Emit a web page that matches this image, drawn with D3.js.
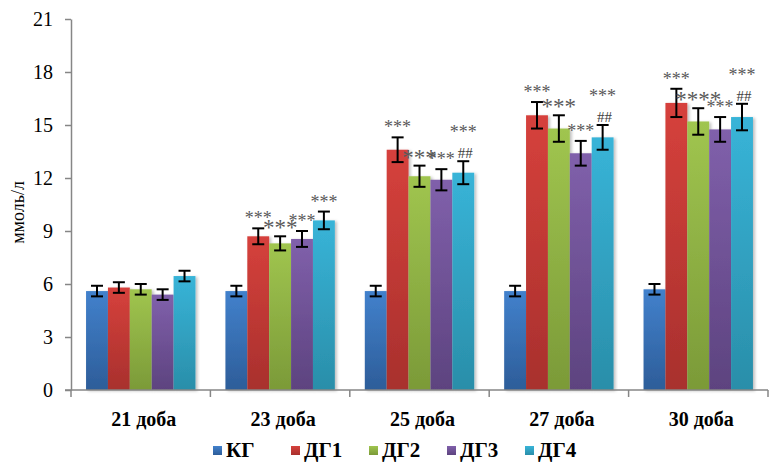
<!DOCTYPE html>
<html>
<head>
<meta charset="UTF-8" />
<title>ммоль/л</title>
<style>
	html, body { margin: 0; padding: 0; background: #fff; overflow: hidden; }
	svg { font-family: "Liberation Serif", "Times New Roman", serif; }
	.axis path, .axis line { stroke: #868686; stroke-width: 1.5px; }
	.err line { stroke: #000; stroke-width: 2px; }
</style>
<script src="https://d3js.org/d3.v7.min.js"></script>
</head>
<body>
<svg id="chart" width="774" height="464"></svg>
<script>
// data
const days = ['21 доба', '23 доба', '25 доба', '27 доба', '30 доба'];
const groups = ['КГ', 'ДГ1', 'ДГ2', 'ДГ3', 'ДГ4'];
const values = [
	[5.6, 5.8, 5.7, 5.4, 6.45],
	[5.6, 8.7, 8.3, 8.55, 9.6],
	[5.6, 13.6, 12.1, 11.9, 12.3],
	[5.6, 15.55, 14.8, 13.4, 14.3],
	[5.7, 16.25, 15.2, 14.75, 15.45]
];
const errors = [
	[0.3, 0.3, 0.3, 0.3, 0.3],
	[0.3, 0.45, 0.4, 0.45, 0.5],
	[0.3, 0.7, 0.6, 0.6, 0.65],
	[0.3, 0.75, 0.75, 0.7, 0.7],
	[0.3, 0.8, 0.75, 0.7, 0.75]
];
const stars = [
	['', '', '', '', ''],
	['', '***', '***', '***', '***'],
	['', '***', '***', '***', '***'],
	['', '***', '***', '***', '***'],
	['', '***', '****', '***', '***']
];
const hashes = [
	['', '', '', '', ''],
	['', '', '', '', ''],
	['', '', '', '', '##'],
	['', '', '', '', '##'],
	['', '', '', '', '##']
];
const yTicks = [0, 3, 6, 9, 12, 15, 18, 21];
const colors = [
	['#4281cc', '#2d5d99'],
	['#d6413c', '#a8302d'],
	['#a0c54f', '#7b9a38'],
	['#8060ab', '#5d437f'],
	['#38b4d8', '#2a8ea9']
];

const svg = d3.select('#chart');
const margin = { left: 71, right: 6, top: 19, bottom: 74 };
const W = 774, H = 464;

const x0 = d3.scaleBand().domain(days).range([margin.left, W - margin.right]).paddingInner(0.215).paddingOuter(0.108);
const x1 = d3.scaleBand().domain(groups).range([0, x0.bandwidth()]);
const y = d3.scaleLinear().domain([0, 21]).range([H - margin.bottom, margin.top]);
const xEdges = d3.scaleLinear().domain([0, days.length]).range([margin.left, W - margin.right]);

const defs = svg.append('defs');
colors.forEach((c, i) => {
	const g = defs.append('linearGradient').attr('id', 'g' + i)
		.attr('x1', 0).attr('y1', 0).attr('x2', 0).attr('y2', 1);
	g.append('stop').attr('offset', '0%').attr('stop-color', c[0]);
	g.append('stop').attr('offset', '100%').attr('stop-color', c[1]);
});
const sh = defs.append('filter').attr('id', 'shadow').attr('x', '-20%').attr('y', '-5%').attr('width', '140%').attr('height', '110%');
sh.append('feDropShadow').attr('dx', 2).attr('dy', 1).attr('stdDeviation', 1.5).attr('flood-opacity', 0.25);

// y axis
const yAxis = svg.append('g').attr('class', 'axis')
	.attr('transform', `translate(${margin.left},0)`)
	.call(d3.axisLeft(y).tickValues(yTicks).tickSize(6).tickPadding(12).tickSizeOuter(0));
yAxis.selectAll('text').attr('font-size', 20).attr('fill', '#000').attr('font-family', '"Liberation Serif", serif');

svg.append('text')
	.attr('transform', `translate(24,${(y(0) + y(21)) / 2 + 8}) rotate(-90)`)
	.attr('text-anchor', 'middle')
	.attr('font-size', 18)
	.text('ммоль/л');

// bars
const gDay = svg.append('g').selectAll('g').data(days).join('g')
	.attr('transform', d => `translate(${x0(d)},0)`);

gDay.selectAll('rect').data((d, i) => values[i].map((v, j) => ({ v, j })))
	.join('rect')
	.attr('x', d => x1(groups[d.j]))
	.attr('y', d => y(d.v))
	.attr('width', x1.bandwidth())
	.attr('height', d => y(0) - y(d.v))
	.attr('fill', d => `url(#g${d.j})`)
	.attr('filter', 'url(#shadow)');

// x axis
svg.append('line').attr('class', 'xline')
	.attr('x1', margin.left - 6).attr('x2', W - margin.right)
	.attr('y1', y(0)).attr('y2', y(0))
	.attr('stroke', '#868686').attr('stroke-width', 1.5);
svg.append('g').selectAll('line').data(d3.range(days.length + 1)).join('line')
	.attr('x1', d => xEdges(d)).attr('x2', d => xEdges(d))
	.attr('y1', y(0)).attr('y2', y(0) + 7)
	.attr('stroke', '#868686').attr('stroke-width', 1.5);
svg.append('g').selectAll('text').data(days).join('text')
	.attr('x', d => x0(d) + x0.bandwidth() / 2 + 3)
	.attr('y', y(0) + 36)
	.attr('text-anchor', 'middle')
	.attr('font-size', 20)
	.attr('font-weight', 'bold')
	.text(d => d);

// error bars
const cap = 6;
gDay.each(function (d, i) {
	const g = d3.select(this).append('g').attr('class', 'err');
	values[i].forEach((v, j) => {
		const cx = x1(groups[j]) + x1.bandwidth() / 2;
		const e = errors[i][j];
		g.append('line').attr('x1', cx).attr('x2', cx).attr('y1', y(v - e)).attr('y2', y(v + e));
		g.append('line').attr('x1', cx - cap).attr('x2', cx + cap).attr('y1', y(v - e)).attr('y2', y(v - e));
		g.append('line').attr('x1', cx - cap).attr('x2', cx + cap).attr('y1', y(v + e)).attr('y2', y(v + e));
	});
	// significance marks
	values[i].forEach((v, j) => {
		const cx = x1(groups[j]) + x1.bandwidth() / 2;
		const top = y(v + errors[i][j]);
		const big = j === 2;
		let off = 6;
		if (hashes[i][j]) {
			d3.select(this).append('text')
				.attr('x', cx + 2).attr('y', top - 3)
				.attr('text-anchor', 'middle')
				.attr('font-size', 15).attr('fill', '#404040')
				.text(hashes[i][j]);
			off = 25;
		}
		if (stars[i][j]) {
			d3.select(this).append('text')
				.attr('x', cx).attr('y', top - off + (big ? 5 : 2))
				.attr('text-anchor', 'middle')
				.attr('font-size', big ? 23 : 18)
				.attr('fill', '#595959')
				.text(stars[i][j]);
		}
	});
});

// legend
const leg = svg.append('g').attr('transform', `translate(213,${H - 7})`);
const item = leg.selectAll('g').data(groups).join('g')
	.attr('transform', (d, i) => `translate(${i * 78},0)`);
item.append('rect').attr('x', 0).attr('y', -11).attr('width', 9).attr('height', 9)
	.attr('fill', (d, i) => `url(#g${i})`);
item.append('text').attr('x', 13).attr('y', 0)
	.attr('font-size', 21).attr('font-weight', 'bold')
	.text(d => d);
</script>
</body>
</html>
